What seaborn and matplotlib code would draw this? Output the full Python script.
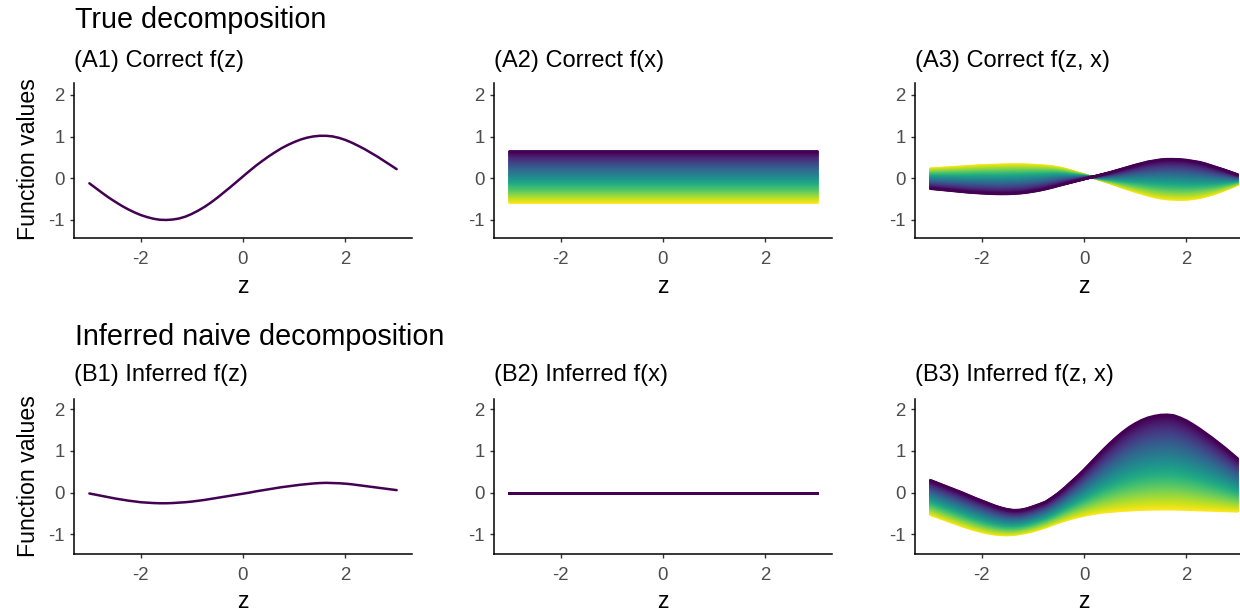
import numpy as np
import pandas as pd
import matplotlib
matplotlib.use("Agg")
import matplotlib.pyplot as plt
import seaborn as sns

# ---------------- data ----------------
z_grid = [-3.0, -2.875, -2.75, -2.625, -2.5, -2.375, -2.25, -2.125,
          -2.0, -1.875, -1.75, -1.625, -1.5, -1.375, -1.25, -1.125,
          -1.0, -0.875, -0.75, -0.625, -0.5, -0.375, -0.25, -0.125,
          0.0, 0.125, 0.25, 0.375, 0.5, 0.625, 0.75, 0.875,
          1.0, 1.125, 1.25, 1.375, 1.5, 1.625, 1.75, 1.875,
          2.0, 2.125, 2.25, 2.375, 2.5, 2.625, 2.75, 2.875, 3.0]

# (A1) correct f(z)
a1_fz = [-0.12, -0.235, -0.35, -0.46, -0.56, -0.655, -0.74, -0.815,
         -0.88, -0.93, -0.97, -0.995, -1.0, -0.99, -0.965, -0.92,
         -0.855, -0.775, -0.685, -0.58, -0.465, -0.34, -0.215, -0.085,
         0.045, 0.175, 0.30, 0.415, 0.525, 0.625, 0.72, 0.80,
         0.87, 0.93, 0.975, 1.005, 1.02, 1.02, 1.005, 0.97,
         0.92, 0.855, 0.78, 0.70, 0.61, 0.52, 0.42, 0.32, 0.22]

# (A2) correct f(x): constant in z, purple (low x) to yellow (high x)
a2_purple = 0.66
a2_yellow = -0.57

# (A3) correct f(z, x): extreme curves
a3_purple = [-0.25, -0.265, -0.28, -0.295, -0.31, -0.325, -0.34, -0.35,
             -0.36, -0.368, -0.374, -0.377, -0.376, -0.37, -0.36, -0.343,
             -0.32, -0.293, -0.26, -0.222, -0.18, -0.14, -0.10, -0.06,
             -0.02, 0.02, 0.06, 0.10, 0.14, 0.185, 0.23, 0.275,
             0.32, 0.36, 0.40, 0.425, 0.45, 0.46, 0.46, 0.455,
             0.44, 0.415, 0.39, 0.35, 0.30, 0.25, 0.20, 0.145, 0.09]
a3_yellow = [0.23, 0.24, 0.25, 0.26, 0.27, 0.28, 0.29, 0.30,
             0.31, 0.315, 0.32, 0.325, 0.33, 0.33, 0.33, 0.327,
             0.32, 0.31, 0.30, 0.285, 0.26, 0.225, 0.18, 0.135,
             0.09, 0.04, -0.01, -0.06, -0.11, -0.165, -0.22, -0.27,
             -0.32, -0.365, -0.41, -0.45, -0.48, -0.50, -0.51, -0.515,
             -0.51, -0.495, -0.47, -0.435, -0.39, -0.34, -0.28, -0.22, -0.15]

# (B1) inferred f(z)
b1_fz = [-0.02, -0.05, -0.08, -0.11, -0.14, -0.165, -0.19, -0.21,
         -0.23, -0.24, -0.25, -0.255, -0.255, -0.25, -0.24, -0.23,
         -0.215, -0.195, -0.175, -0.15, -0.125, -0.10, -0.075, -0.05,
         -0.025, 0.0, 0.03, 0.055, 0.08, 0.105, 0.13, 0.15,
         0.17, 0.19, 0.205, 0.22, 0.23, 0.235, 0.23, 0.225,
         0.215, 0.20, 0.18, 0.16, 0.14, 0.12, 0.10, 0.08, 0.06]

# (B2) inferred f(x)
b2_value = 0.0

# (B3) inferred f(z, x): extreme curves
b3_purple = [0.30, 0.24, 0.18, 0.12, 0.06, 0.0, -0.065, -0.13,
             -0.19, -0.25, -0.31, -0.36, -0.40, -0.42, -0.415, -0.385,
             -0.335, -0.28, -0.22, -0.12, -0.01, 0.12, 0.26, 0.40,
             0.55, 0.71, 0.87, 1.03, 1.18, 1.32, 1.45, 1.565,
             1.66, 1.74, 1.80, 1.84, 1.865, 1.87, 1.855, 1.80,
             1.73, 1.64, 1.54, 1.43, 1.32, 1.20, 1.08, 0.95, 0.82]
b3_yellow = [-0.53, -0.585, -0.64, -0.695, -0.75, -0.805, -0.855, -0.90,
             -0.94, -0.975, -1.0, -1.015, -1.02, -1.01, -0.99, -0.96,
             -0.925, -0.88, -0.83, -0.775, -0.72, -0.67, -0.625, -0.585,
             -0.55, -0.52, -0.495, -0.475, -0.46, -0.445, -0.435, -0.425,
             -0.415, -0.41, -0.405, -0.40, -0.40, -0.40, -0.40, -0.405,
             -0.41, -0.415, -0.42, -0.425, -0.43, -0.435, -0.44, -0.445, -0.45]

n_levels = 100
titles = [["(A1) Correct f(z)", "(A2) Correct f(x)", "(A3) Correct f(z, x)"],
          ["(B1) Inferred f(z)", "(B2) Inferred f(x)", "(B3) Inferred f(z, x)"]]
row_titles = ["True decomposition", "Inferred naive decomposition"]


def family(purple, yellow):
    """Long-form frame of curves between the yellow and purple extremes."""
    purple = np.broadcast_to(np.asarray(purple, float), (len(z_grid),))
    yellow = np.broadcast_to(np.asarray(yellow, float), (len(z_grid),))
    rows = []
    for k in range(n_levels):
        w = k / (n_levels - 1)          # 0 -> yellow (drawn first), 1 -> purple (drawn last)
        vals = yellow + (purple - yellow) * w
        rows.append(pd.DataFrame({"z": z_grid, "value": vals, "level": w}))
    return pd.concat(rows, ignore_index=True)


# ---------------- figure ----------------
sns.set_theme(style="white")
plt.rcParams["font.family"] = ["Liberation Sans", "DejaVu Sans"]
plt.rcParams["text.color"] = "black"

W, H = 1240, 611
fig = plt.figure(figsize=(W / 100, H / 100), dpi=100)


def px_axes(left, top, width, height):
    return fig.add_axes([left / W, 1 - (top + height) / H, width / W, height / H])


col_left = [74, 494, 915]
row_top = [83.3, 399.3]
ax_w, ax_h = 338, 155
ylims = [(-1.44, 2.28), (-1.48, 2.24)]
purple = "#440154"
lw = 1.8

panels = [
    [("single", a1_fz), ("family", (a2_purple, a2_yellow)), ("family", (a3_purple, a3_yellow))],
    [("single", b1_fz), ("family", (b2_value, b2_value)), ("family", (b3_purple, b3_yellow))],
]

for r in range(2):
    for c in range(3):
        ax = px_axes(col_left[c], row_top[r], ax_w, ax_h)
        kind, d = panels[r][c]
        if kind == "single":
            df = pd.DataFrame({"z": z_grid, "value": d})
            sns.lineplot(data=df, x="z", y="value", ax=ax, color=purple, linewidth=lw)
        else:
            df = family(*d)
            sns.lineplot(data=df, x="z", y="value", hue="level", palette="viridis_r",
                         hue_norm=(0, 1), estimator=None, legend=False, ax=ax, linewidth=lw)
        ax.set_xlim(-3.3, 3.3)
        ax.set_ylim(*ylims[r])
        ax.set_xticks([-2, 0, 2])
        ax.set_xticklabels(["-2", "0", "2"])
        ax.set_yticks([-1, 0, 1, 2])
        ax.set_yticklabels(["-1", "0", "1", "2"])
        ax.set_xlabel("")
        ax.set_ylabel("")
        sns.despine(ax=ax)
        for s in ("left", "bottom"):
            ax.spines[s].set_color("black")
            ax.spines[s].set_linewidth(1.1)
        ax.tick_params(axis="both", which="major", direction="out", length=3.2, width=1.0,
                       color="#333333", labelcolor="#4D4D4D", labelsize=13.4, left=True, bottom=True)
        ax.tick_params(axis="x", pad=6.3)
        ax.tick_params(axis="y", pad=3.5)
        ax.set_facecolor("white")
        # panel title
        fig.text(col_left[c] / W, 1 - (66.7 if r == 0 else 380.7) / H, titles[r][c],
                 fontsize=17, va="baseline", ha="left", color="black")
        # x axis title
        fig.text((col_left[c] + ax_w / 2) / W, 1 - (293.3 if r == 0 else 608.3) / H, "z",
                 fontsize=16.7, va="baseline", ha="center", color="black")

# row titles
fig.text(75 / W, 1 - 28.3 / H, row_titles[0], fontsize=20.7, va="baseline", ha="left", color="black")
fig.text(75 / W, 1 - 345.0 / H, row_titles[1], fontsize=20.7, va="baseline", ha="left", color="black")

# y axis titles
fig.text(29 / W, 1 - 159 / H, "Function values", rotation=90, fontsize=16.7,
         ha="center", va="center", color="black")
fig.text(29 / W, 1 - 475.8 / H, "Function values", rotation=90, fontsize=16.7,
         ha="center", va="center", color="black")

fig.savefig("out.png", dpi=100, facecolor="white")
